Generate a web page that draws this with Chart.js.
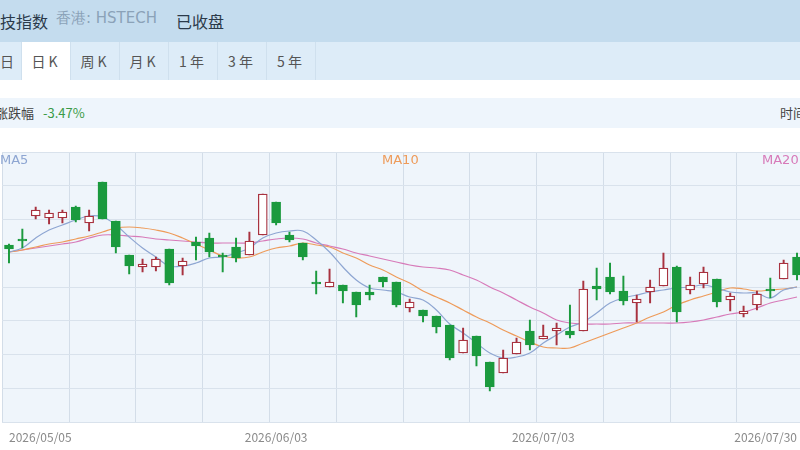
<!DOCTYPE html>
<html>
<head>
<meta charset="utf-8">
<script src="https://cdn.jsdelivr.net/npm/chart.js@4"></script>
<style>
  body { margin: 0; width: 800px; height: 450px; overflow: hidden; position: relative; background: #fff;
         font-family: "Noto Sans CJK SC", "Noto Sans", sans-serif; }
  .hdr { position: absolute; left: 0; top: 0; width: 800px; height: 42px; background: #c4dcee; }
  .hdr span { position: absolute; top: 9px; font-size: 16px; }
  .tabs { position: absolute; left: 0; top: 42px; width: 800px; height: 38px; background: #ddecf8; }
  .tab { position: absolute; top: 0; height: 38px; line-height: 38px; font-size: 14px; color: #555;
         text-align: center; border-right: 1px solid #cfe0ee; letter-spacing: 3px; }
  .row { position: absolute; left: 0; top: 98px; width: 800px; height: 30px; background: #eef5fc;
         font-size: 13px; line-height: 30px; color: #444; white-space: nowrap; }
  .ma { position: absolute; top: 152px; font-size: 13px; font-family: "DejaVu Sans", sans-serif; z-index: 2; }
  #wrap { position: absolute; left: 1px; top: 152px; width: 804px; height: 298px; }
</style>
</head>
<body>
<div class="hdr">
  <span style="left:0;color:#2b3a4a">技指数</span>
  <span style="left:56px;color:#8ba2b8;font-family:'DejaVu Sans',sans-serif;font-size:15px">香港: HSTECH</span>
  <span style="left:176px;color:#2b3a4a">已收盘</span>
</div>
<div class="tabs">
  <div class="tab" style="left:0;width:21px;text-align:left">日</div>
  <div class="tab" style="left:22px;width:48px;background:#fff;height:38px">日K</div>
  <div class="tab" style="left:71px;width:48px">周K</div>
  <div class="tab" style="left:120px;width:48px">月K</div>
  <div class="tab" style="left:169px;width:48px">1年</div>
  <div class="tab" style="left:218px;width:48px">3年</div>
  <div class="tab" style="left:267px;width:48px">5年</div>
</div>
<div class="row">
  <span style="position:absolute;left:-5px">涨跌幅</span>
  <span style="position:absolute;left:43px;color:#3a9a46">-3.47%</span>
  <span style="position:absolute;left:780px">时间</span>
</div>
<div id="wrap"><canvas id="chart"></canvas></div>
<div class="ma" style="left:0;color:#8ea6d2">MA5</div>
<div class="ma" style="left:382px;color:#ee9b5a">MA10</div>
<div class="ma" style="left:762px;color:#d77ab9">MA20</div>

<script>
// daily candles, values (relative level)
const opens  = [177,183,206,204,204,215,199,240,201,167,155,155,173,156,180,184,167,175,167,187,
                220,187,179,140,135,137,130,130,145,140,114,112,106,97,69,86,60,49,68,91,
                83,91,91,91,136,145,131,119,130,136,155,132,138,143,122,108,117,133,143,165];
const closes = [173,181,212,209,210,202,206,203,175,156,158,163,139,161,176,170,165,164,181,228,
                199,182,165,138,140,131,117,127,140,117,120,106,95,64,82,66,35,64,80,77,
                86,94,87,133,133,130,121,123,135,154,110,137,150,120,126,111,128,131,159,147];
const highs  = [178,193,215,212,212,216,212,240,201,167,163,165,173,164,185,189,169,184,190,228,
                220,190,179,151,153,137,130,137,145,140,123,112,106,97,94,86,60,72,84,102,
                97,99,117,141,154,159,146,127,142,169,156,145,155,143,129,116,131,144,162,169];
const lows   = [159,174,203,198,199,200,191,203,169,148,150,151,137,147,162,165,150,160,167,187,
                197,180,162,128,135,119,105,122,135,115,110,100,89,62,69,56,31,49,68,72,
                83,77,84,91,122,128,117,100,119,136,100,128,134,115,111,105,112,124,143,142];

const ma5  = [170,174,184,192,197,202,206,205,197,185,174,165,156,156,159,164,165,169,174,184,
              189,191,191,182,170,155,142,134,132,130,125,122,112,98,89,79,69,64,65,69,
              79,87,95,100,109,119,124,127,130,132,134,135,137,134,130,129,129,124,132,135];
const ma10 = [170,172,175,178,180,183,186,190,194,195,194,192,189,184,178,172,166,164,165,170,
              174,176,179,177,175,169,164,157,152,145,139,131,125,119,112,105,99,92,86,80,
              75,74,74,79,84,89,94,99,105,110,117,122,126,130,134,133,131,132,133,135];
const ma20 = [170,172,174,176,178,180,184,187,187,186,185,183,182,181,180,179,179,179,179,181,
              183,184,183,179,176,173,169,166,163,160,157,155,154,152,147,142,135,129,122,115,
              109,102,99,98,98,98,99,99,99,99,99,100,102,105,108,110,114,119,122,125];

// tick labels shown under the axis
const tickLabels = { 0: '2026/05/05', 20: '2026/06/03', 40: '2026/07/03', 59: '2026/07/30' };

const days = opens.map((o, i) => i);
const bodies = opens.map((o, i) => [o, closes[i]]);
const wicks = lows.map((l, i) => [l, highs[i]]);
const up = opens.map((o, i) => closes[i] >= o);
const RED = '#a8323f', GREEN = '#1b9a3e';

const bgPlugin = {
  id: 'bg',
  beforeDraw(chart) {
    const a = chart.chartArea, c = chart.ctx;
    c.save();
    c.fillStyle = '#eff5fb';
    c.fillRect(a.left, 0, a.right - a.left, a.bottom);
    c.restore();
  }
};

new Chart(document.getElementById('chart'), {
  type: 'bar',
  data: {
    labels: days,
    datasets: [
      { type: 'line', data: ma5, borderColor: '#8ea6d2', borderWidth: 1.2, pointRadius: 0, tension: 0.4, order: 3 },
      { type: 'line', data: ma10, borderColor: '#ee9b5a', borderWidth: 1.2, pointRadius: 0, tension: 0.4, order: 3 },
      { type: 'line', data: ma20, borderColor: '#d77ab9', borderWidth: 1.2, pointRadius: 0, tension: 0.4, order: 3 },
      { data: wicks, grouped: false, barThickness: 1.3, order: 2,
        backgroundColor: up.map(u => u ? RED : GREEN) },
      { data: bodies, grouped: false, barThickness: 9, order: 1, borderSkipped: false, borderWidth: 1.3,
        backgroundColor: up.map(u => u ? '#ffffff' : GREEN),
        borderColor: up.map(u => u ? RED : GREEN) }
    ]
  },
  options: {
    responsive: true,
    maintainAspectRatio: false,
    animation: false,
    layout: { padding: 0 },
    plugins: { legend: { display: false }, tooltip: { enabled: false } },
    scales: {
      x: {
        afterFit: s => { s.height = 28; },
        border: { display: false },
        grid: { offset: true, drawTicks: false,
                color: c => (c.index % 5 === 0 ? '#d3dde8' : 'rgba(0,0,0,0)') },
        ticks: {
          autoSkip: false, maxRotation: 0, align: 'inner', padding: 8,
          color: '#8a8a8a', font: { size: 12, family: 'Noto Sans CJK SC' },
          callback: (v, i) => tickLabels[i] || ''
        }
      },
      y: {
        min: 0, max: 270,
        afterFit: s => { s.width = 0; },
        border: { display: false },
        grid: { color: '#d9e2ec', drawTicks: false },
        ticks: { display: false, stepSize: 33.75 }
      }
    }
  },
  plugins: [bgPlugin]
});
</script>
</body>
</html>
